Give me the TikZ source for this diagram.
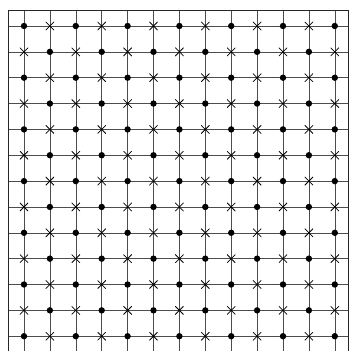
\documentclass[tikz,border=0pt]{standalone}
\usetikzlibrary{positioning}
\tikzset{
  gridline/.style={black!70, line width=0.8pt},
  frameline/.style={black!85, line width=1.2pt},
  dotmark/.style={circle, fill=black, inner sep=0pt, minimum size=3.2mm},
  crossmark/.style={inner sep=0pt, minimum size=4.2mm, path picture={
      \draw[black, line width=1.1pt] (path picture bounding box.south west) -- (path picture bounding box.north east)
        (path picture bounding box.north west) -- (path picture bounding box.south east);}},
}
\begin{document}
\begin{tikzpicture}[x=0.5mm, y=-0.5mm]
\useasboundingbox (0,0) rectangle (352,351);
% grid lines
\foreach \k in {1,...,13} {
  \draw[gridline] (8, {26+25.85*(\k-1)}) -- (348, {26+25.85*(\k-1)});
  \draw[gridline] ({24+25.9*(\k-1)}, 10) -- ({24+25.9*(\k-1)}, 351);
}
% frame (open at the bottom)
\draw[frameline] (8,351) -- (8,10) -- (348,10) -- (348,351);
% dots and crosses
\foreach \i in {1,...,13} {
  \foreach \j in {1,...,13} {
    \pgfmathtruncatemacro{\sumij}{\i+\j}
    \ifodd\sumij
      \node[crossmark] (p-\i-\j) at ({24+25.9*(\i-1)}, {26+25.85*(\j-1)}) {};
    \else
      \node[dotmark] (p-\i-\j) at ({24+25.9*(\i-1)}, {26+25.85*(\j-1)}) {};
    \fi
  }
}
\end{tikzpicture}
\end{document}
